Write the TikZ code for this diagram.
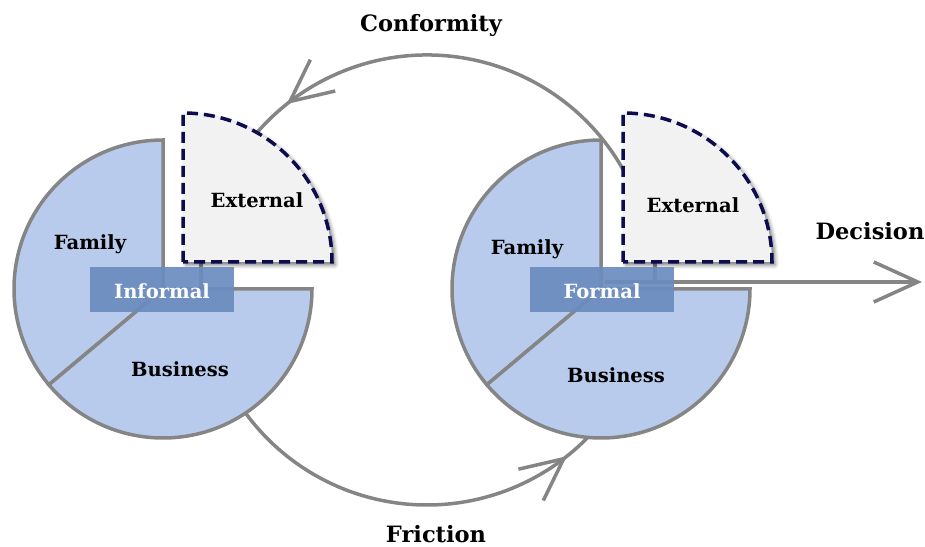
\documentclass[tikz,border=0pt]{standalone}
\usepackage{fontspec}
\setmainfont{DejaVu Serif}
\usetikzlibrary{arrows.meta,decorations.markings,shadows.blur,calc}
\definecolor{rim}{HTML}{858585}
\definecolor{slicefill}{HTML}{B9CBEC}
\definecolor{extfill}{HTML}{F2F2F2}
\definecolor{navy}{HTML}{0C0C4E}
\definecolor{tagfill}{HTML}{6A8CBF}
\begin{document}
\begin{tikzpicture}[x=1bp,y=1bp,
  rimline/.style={draw=rim, line width=3.5bp},
  slice/.style={rimline, fill=slicefill},
  extslice/.style={draw=navy, fill=extfill, line width=3.5bp,
    dash pattern=on 11bp off 6bp,
    blur shadow={shadow xshift=3bp, shadow yshift=-3bp,
                 shadow blur radius=4bp, shadow opacity=55}},
  tag/.style={fill=tagfill, fill opacity=0.92, text opacity=1, text=white,
    minimum width=144bp, minimum height=45bp, inner sep=0pt},
  lbl/.style={font=\bfseries\fontsize{19.6}{20}\selectfont, text=black, inner sep=0pt},
  flowlbl/.style={font=\bfseries\fontsize{22.6}{23}\selectfont, text=black, inner sep=0pt},
  midtip/.style={postaction={decorate}, decoration={markings,
    mark=at position #1 with {\arrow{Straight Barb[length=42bp, width=40bp]}}}}
]
\useasboundingbox (0,0) rectangle (925,547);

% reference points
\coordinate (hubL) at (163,258);
\coordinate (hubR) at (601,258);
\coordinate (cornL) at (183,285);
\coordinate (cornR) at (623,285);
\coordinate (ring) at (427,267);

% feedback arcs between the two pies
\draw[rimline, midtip=0.863] ($(ring)+(25:225)$) arc[start angle=25, end angle=145, radius=225];
\draw[rimline, midtip=0.895] ($(ring)+(210:225)$) arc[start angle=210, end angle=320, radius=225];

% informal pie
\path[slice] (hubL) -- ++(90:149) arc[start angle=90, end angle=220, radius=149] -- cycle;
\path[slice] (hubL) -- ++(220:149) arc[start angle=220, end angle=360, radius=149] -- cycle;
\draw[rimline] (201,285) -- (201,258);

% formal pie
\path[slice] (hubR) -- ++(90:149) arc[start angle=90, end angle=220, radius=149] -- cycle;
\path[slice] (hubR) -- ++(220:149) arc[start angle=220, end angle=360, radius=149] -- cycle;
\draw[rimline] (655,285) -- (655,265);

% decision arrow
\coordinate (decStart) at (605,265);
\coordinate (decEnd) at (922,265);
\draw[rimline, -{Straight Barb[length=44bp, width=40bp]}] (decStart) -- (decEnd);

% exploded external slices
\path[extslice] (cornL) -- ++(0,149) arc[start angle=90, end angle=0, radius=149] -- cycle;
\path[extslice] (cornR) -- ++(0,149) arc[start angle=90, end angle=0, radius=149] -- cycle;

% centre tags
\node[tag] (informal) at (162,257.5) {};
\node[tag] (formal) at (602,257.5) {};
\node[lbl, text=white, anchor=base] (informalTxt) at (162,248) {Informal};
\node[lbl, text=white, anchor=base] (formalTxt) at (602,248) {Formal};

% slice labels
\node[lbl, anchor=base] (famL) at (90,297) {Family};
\node[lbl, anchor=base] (busL) at (180,170) {Business};
\node[lbl, anchor=base] (extL) at (257,339) {External};
\node[lbl, anchor=base] (famR) at (527,292) {Family};
\node[lbl, anchor=base] (busR) at (616,164) {Business};
\node[lbl, anchor=base] (extR) at (693,334) {External};

% flow labels
\node[flowlbl, anchor=base] (conf) at (431,515) {Conformity};
\node[flowlbl, anchor=base] (fric) at (436,4) {Friction};
\node[flowlbl, anchor=base] (dec) at (870,307) {Decision};
\end{tikzpicture}
\end{document}
